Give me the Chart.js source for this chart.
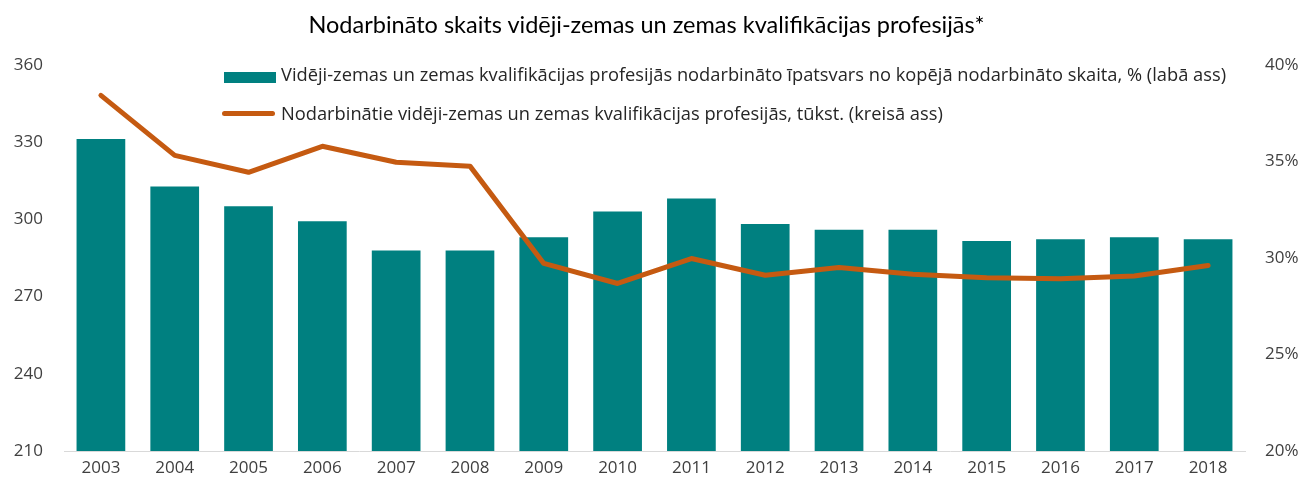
<!DOCTYPE html>
<html>
<head>
<meta charset="utf-8">
<script src="https://cdn.jsdelivr.net/npm/chart.js@4.4.1/dist/chart.umd.min.js"></script>
<style>
  html, body { margin: 0; padding: 0; background: #fff; }
  #wrap { position: relative; width: 1305px; height: 479px; }
  canvas { display: block; }
  #title { position: absolute; left: 0; width: 1293px; top: 13px; text-align: center; line-height: 1;
           font-family: Lato, sans-serif; font-size: 23.5px; color: #000; white-space: nowrap; }
  .legtxt { position: absolute; left: 281px; font-family: "Open Sans", sans-serif; line-height: 20px;
            font-size: 18.3px; color: #262626; white-space: nowrap; }
  .mark { position: absolute; }
</style>
</head>
<body>
<div id="wrap">
  <canvas id="myChart" width="1305" height="479"></canvas>
  <div id="title">Nodarbināto skaits vidēji-zemas un zemas kvalifikācijas profesijās*</div>
  <div class="mark" style="left:224px;top:72px;width:52px;height:11px;background:#008080"></div>
  <div class="legtxt" id="t1" style="top:64px"></div>
  <div class="mark" style="left:222px;top:111px;width:53px;height:5px;border-radius:3px;background:#C55A11"></div>
  <div class="legtxt" id="t2" style="top:103px"></div>
</div>
<script>
// years on the x axis
var years = ['2003', '2004', '2005', '2006', '2007', '2008', '2009', '2010',
             '2011', '2012', '2013', '2014', '2015', '2016', '2017', '2018'];

// share of employed in lower-middle and low skilled jobs, % (right axis)
var shareValues = [36.16, 33.70, 32.68, 31.90, 30.39, 30.39, 31.08, 32.41,
                   33.08, 31.76, 31.47, 31.47, 30.88, 30.97, 31.08, 30.97];

// employed in those jobs, thousands (left axis)
var employedValues = [348.2, 324.9, 318.3, 328.4, 322.2, 320.7, 282.9, 275.1,
                      284.8, 278.3, 281.3, 278.7, 277.3, 276.9, 278.0, 282.1];

var barLabel = 'Vidēji-zemas un zemas kvalifikācijas profesijās nodarbināto īpatsvars no kopējā nodarbināto skaita, % (labā ass)';
var lineLabel = 'Nodarbinātie vidēji-zemas un zemas kvalifikācijas profesijās, tūkst. (kreisā ass)';

document.getElementById('t1').textContent = barLabel;
document.getElementById('t2').textContent = lineLabel;

var tickFont = { family: 'Open Sans', size: 17 };
var tickColor = '#404040';

// y axes: fixed width, and don't let tick padding push the chart area in
function fitY(w) {
    return function (s) {
        s.width = w;
        s.paddingTop = 0;
        s.paddingBottom = 0;
    };
}

var ctx = document.getElementById('myChart').getContext('2d');
var chart = new Chart(ctx, {
    type: 'bar',
    data: {
        labels: years,
        datasets: [
            {
                type: 'line',
                label: lineLabel,
                data: employedValues,
                yAxisID: 'yLeft',
                borderColor: '#C55A11',
                borderWidth: 5,
                pointRadius: 0,
                tension: 0,
                borderCapStyle: 'round',
                borderJoinStyle: 'round',
                order: 0
            },
            {
                type: 'bar',
                label: barLabel,
                data: shareValues,
                yAxisID: 'yRight',
                backgroundColor: '#008080',
                barPercentage: 0.66,
                categoryPercentage: 1,
                order: 1
            }
        ]
    },
    options: {
        responsive: false,
        animation: false,
        layout: { padding: { top: 65, bottom: 0, left: 0, right: 0 } },
        plugins: {
            legend: { display: false },
            title: { display: false },
            tooltip: { enabled: false }
        },
        scales: {
            x: {
                grid: { display: false, drawTicks: false },
                border: { display: true, color: '#d9d9d9', width: 1 },
                ticks: { font: tickFont, color: tickColor, padding: 7 },
                afterFit: function (s) { s.height = 28; }
            },
            yLeft: {
                position: 'left',
                min: 210, max: 360,
                grid: { display: false, drawTicks: false },
                border: { display: false },
                ticks: { stepSize: 30, font: tickFont, color: tickColor, padding: 21 },
                afterFit: fitY(64)
            },
            yRight: {
                position: 'right',
                min: 20, max: 40,
                grid: { display: false, drawTicks: false },
                border: { display: false },
                ticks: {
                    stepSize: 5, font: tickFont, color: tickColor, padding: 20,
                    callback: function (v) { return v + '%'; }
                },
                afterFit: fitY(60)
            }
        }
    }
});
</script>
</body>
</html>
